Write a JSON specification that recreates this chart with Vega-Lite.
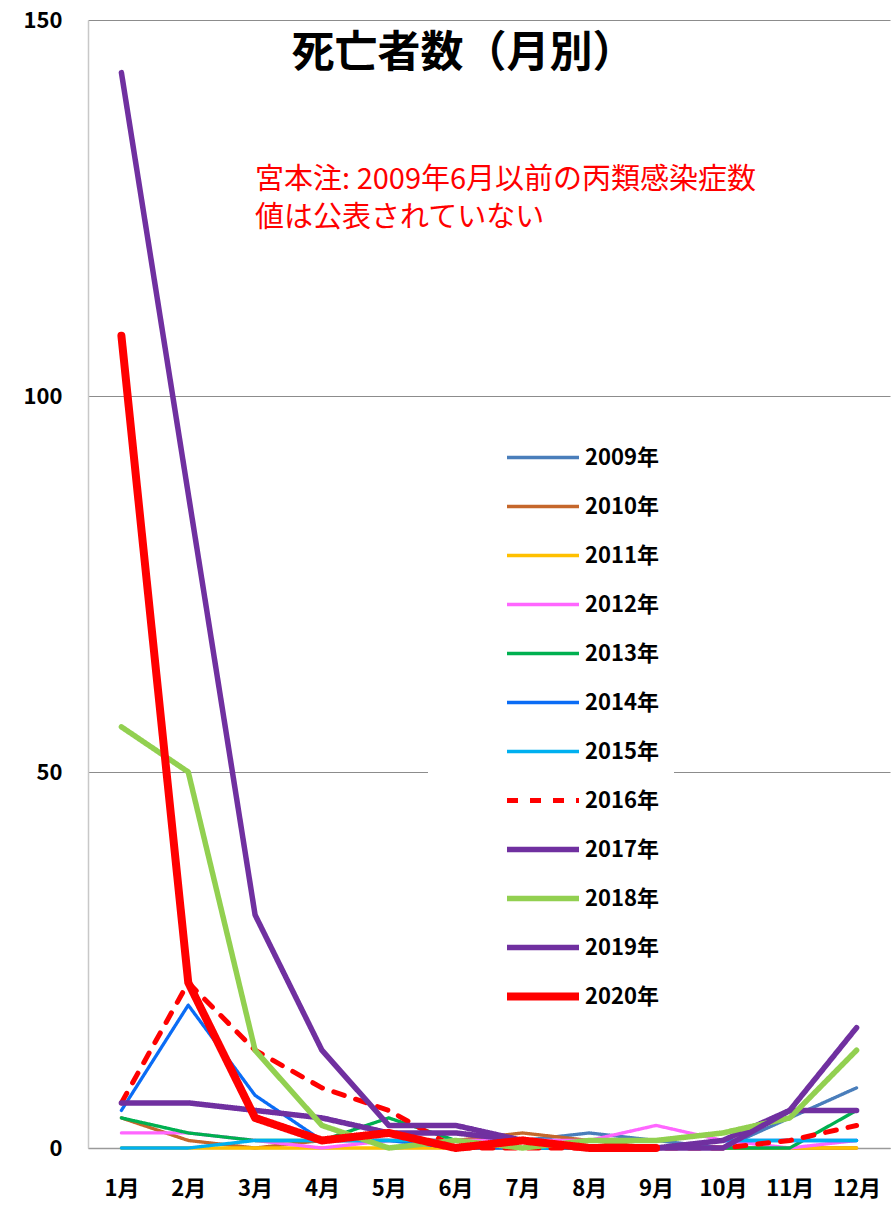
{
  "$schema": "https://vega.github.io/schema/vega-lite/v6.json",
  "width": 802,
  "height": 1128,
  "autosize": {"type": "none"},
  "padding": {"left": 88, "top": 20, "right": 4, "bottom": 61},
  "background": "white",
  "config": {
    "view": {"stroke": null},
    "font": "Noto Sans CJK JP",
    "legend": {"gridAlign": "all"}
  },
  "data": {
    "values": [
      {"year": "2009年", "month": "7月", "value": 1},
      {"year": "2009年", "month": "8月", "value": 2},
      {"year": "2009年", "month": "9月", "value": 1},
      {"year": "2009年", "month": "10月", "value": 0},
      {"year": "2009年", "month": "11月", "value": 4},
      {"year": "2009年", "month": "12月", "value": 8},

      {"year": "2010年", "month": "1月", "value": 4},
      {"year": "2010年", "month": "2月", "value": 1},
      {"year": "2010年", "month": "3月", "value": 0},
      {"year": "2010年", "month": "4月", "value": 1},
      {"year": "2010年", "month": "5月", "value": 1},
      {"year": "2010年", "month": "6月", "value": 1},
      {"year": "2010年", "month": "7月", "value": 2},
      {"year": "2010年", "month": "8月", "value": 1},
      {"year": "2010年", "month": "9月", "value": 0},
      {"year": "2010年", "month": "10月", "value": 0},
      {"year": "2010年", "month": "11月", "value": 0},
      {"year": "2010年", "month": "12月", "value": 0},

      {"year": "2011年", "month": "1月", "value": 0},
      {"year": "2011年", "month": "2月", "value": 0},
      {"year": "2011年", "month": "3月", "value": 0},
      {"year": "2011年", "month": "4月", "value": 0},
      {"year": "2011年", "month": "5月", "value": 0},
      {"year": "2011年", "month": "6月", "value": 0},
      {"year": "2011年", "month": "7月", "value": 0},
      {"year": "2011年", "month": "8月", "value": 0},
      {"year": "2011年", "month": "9月", "value": 0},
      {"year": "2011年", "month": "10月", "value": 0},
      {"year": "2011年", "month": "11月", "value": 0},
      {"year": "2011年", "month": "12月", "value": 0},

      {"year": "2012年", "month": "1月", "value": 2},
      {"year": "2012年", "month": "2月", "value": 2},
      {"year": "2012年", "month": "3月", "value": 1},
      {"year": "2012年", "month": "4月", "value": 0},
      {"year": "2012年", "month": "5月", "value": 1},
      {"year": "2012年", "month": "6月", "value": 1},
      {"year": "2012年", "month": "7月", "value": 1},
      {"year": "2012年", "month": "8月", "value": 1},
      {"year": "2012年", "month": "9月", "value": 3},
      {"year": "2012年", "month": "10月", "value": 1},
      {"year": "2012年", "month": "11月", "value": 0},
      {"year": "2012年", "month": "12月", "value": 1},

      {"year": "2013年", "month": "1月", "value": 4},
      {"year": "2013年", "month": "2月", "value": 2},
      {"year": "2013年", "month": "3月", "value": 1},
      {"year": "2013年", "month": "4月", "value": 1},
      {"year": "2013年", "month": "5月", "value": 4},
      {"year": "2013年", "month": "6月", "value": 1},
      {"year": "2013年", "month": "7月", "value": 0},
      {"year": "2013年", "month": "8月", "value": 0},
      {"year": "2013年", "month": "9月", "value": 0},
      {"year": "2013年", "month": "10月", "value": 0},
      {"year": "2013年", "month": "11月", "value": 0},
      {"year": "2013年", "month": "12月", "value": 5},

      {"year": "2014年", "month": "1月", "value": 5},
      {"year": "2014年", "month": "2月", "value": 19},
      {"year": "2014年", "month": "3月", "value": 7},
      {"year": "2014年", "month": "4月", "value": 1},
      {"year": "2014年", "month": "5月", "value": 1},
      {"year": "2014年", "month": "6月", "value": 0},
      {"year": "2014年", "month": "7月", "value": 0},
      {"year": "2014年", "month": "8月", "value": 0},
      {"year": "2014年", "month": "9月", "value": 0},
      {"year": "2014年", "month": "10月", "value": 1},
      {"year": "2014年", "month": "11月", "value": 1},
      {"year": "2014年", "month": "12月", "value": 1},

      {"year": "2015年", "month": "1月", "value": 0},
      {"year": "2015年", "month": "2月", "value": 0},
      {"year": "2015年", "month": "3月", "value": 1},
      {"year": "2015年", "month": "4月", "value": 1},
      {"year": "2015年", "month": "5月", "value": 1},
      {"year": "2015年", "month": "6月", "value": 1},
      {"year": "2015年", "month": "7月", "value": 0},
      {"year": "2015年", "month": "8月", "value": 0},
      {"year": "2015年", "month": "9月", "value": 0},
      {"year": "2015年", "month": "10月", "value": 1},
      {"year": "2015年", "month": "11月", "value": 1},
      {"year": "2015年", "month": "12月", "value": 1},

      {"year": "2016年", "month": "1月", "value": 6},
      {"year": "2016年", "month": "2月", "value": 22},
      {"year": "2016年", "month": "3月", "value": 13},
      {"year": "2016年", "month": "4月", "value": 8},
      {"year": "2016年", "month": "5月", "value": 5},
      {"year": "2016年", "month": "6月", "value": 0},
      {"year": "2016年", "month": "7月", "value": 0},
      {"year": "2016年", "month": "8月", "value": 0},
      {"year": "2016年", "month": "9月", "value": 0},
      {"year": "2016年", "month": "10月", "value": 0},
      {"year": "2016年", "month": "11月", "value": 1},
      {"year": "2016年", "month": "12月", "value": 3},

      {"year": "2017年", "month": "1月", "value": 6},
      {"year": "2017年", "month": "2月", "value": 6},
      {"year": "2017年", "month": "3月", "value": 5},
      {"year": "2017年", "month": "4月", "value": 4},
      {"year": "2017年", "month": "5月", "value": 2},
      {"year": "2017年", "month": "6月", "value": 2},
      {"year": "2017年", "month": "7月", "value": 1},
      {"year": "2017年", "month": "8月", "value": 0},
      {"year": "2017年", "month": "9月", "value": 0},
      {"year": "2017年", "month": "10月", "value": 1},
      {"year": "2017年", "month": "11月", "value": 5},
      {"year": "2017年", "month": "12月", "value": 5},

      {"year": "2018年", "month": "1月", "value": 56},
      {"year": "2018年", "month": "2月", "value": 50},
      {"year": "2018年", "month": "3月", "value": 13},
      {"year": "2018年", "month": "4月", "value": 3},
      {"year": "2018年", "month": "5月", "value": 0},
      {"year": "2018年", "month": "6月", "value": 1},
      {"year": "2018年", "month": "7月", "value": 0},
      {"year": "2018年", "month": "8月", "value": 1},
      {"year": "2018年", "month": "9月", "value": 1},
      {"year": "2018年", "month": "10月", "value": 2},
      {"year": "2018年", "month": "11月", "value": 4},
      {"year": "2018年", "month": "12月", "value": 13},

      {"year": "2019年", "month": "1月", "value": 143},
      {"year": "2019年", "month": "2月", "value": 87},
      {"year": "2019年", "month": "3月", "value": 31},
      {"year": "2019年", "month": "4月", "value": 13},
      {"year": "2019年", "month": "5月", "value": 3},
      {"year": "2019年", "month": "6月", "value": 3},
      {"year": "2019年", "month": "7月", "value": 1},
      {"year": "2019年", "month": "8月", "value": 0},
      {"year": "2019年", "month": "9月", "value": 0},
      {"year": "2019年", "month": "10月", "value": 0},
      {"year": "2019年", "month": "11月", "value": 5},
      {"year": "2019年", "month": "12月", "value": 16},

      {"year": "2020年", "month": "1月", "value": 108},
      {"year": "2020年", "month": "2月", "value": 22},
      {"year": "2020年", "month": "3月", "value": 4},
      {"year": "2020年", "month": "4月", "value": 1},
      {"year": "2020年", "month": "5月", "value": 2},
      {"year": "2020年", "month": "6月", "value": 0},
      {"year": "2020年", "month": "7月", "value": 1},
      {"year": "2020年", "month": "8月", "value": 0},
      {"year": "2020年", "month": "9月", "value": 0}
    ]
  },
  "layer": [
    {
      "mark": {"type": "line", "strokeCap": "round", "strokeJoin": "round"},
      "encoding": {
        "x": {
          "field": "month",
          "type": "ordinal",
          "scale": {"type": "point", "padding": 0.5, "domain": ["1月", "2月", "3月", "4月", "5月", "6月", "7月", "8月", "9月", "10月", "11月", "12月"]},
          "axis": {
            "title": null,
            "labelAngle": 0,
            "labelFontSize": 22,
            "labelFontWeight": "bold",
            "labelColor": "black",
            "labelPadding": 30,
            "ticks": false,
            "domainColor": "#9a9a9a",
            "domainWidth": 1.5,
            "grid": false
          }
        },
        "y": {
          "field": "value",
          "type": "quantitative",
          "scale": {"domain": [0, 150], "nice": false},
          "axis": {
            "title": null,
            "values": [0, 50, 100, 150],
            "labelFontSize": 22,
            "labelFontWeight": "bold",
            "labelColor": "black",
            "labelPadding": 26,
            "ticks": false,
            "grid": true,
            "gridColor": "#8c8c8c",
            "gridWidth": 1.2,
            "gridOpacity": 1,
            "domainColor": "#c8c8c8",
            "domainWidth": 1.5
          }
        },
        "color": {
          "field": "year",
          "type": "nominal",
          "scale": {
            "domain": ["2009年", "2010年", "2011年", "2012年", "2013年", "2014年", "2015年", "2016年", "2017年", "2018年", "2019年", "2020年"],
            "range": ["#4A7EBB", "#C5672B", "#FFC000", "#FF66FF", "#00B050", "#0A6CF5", "#00B0F0", "#FF0000", "#7030A0", "#92D050", "#7030A0", "#FF0000"]
          },
          "legend": {
            "title": null,
            "orient": "none",
            "legendX": 340,
            "legendY": 398,
            "symbolType": "stroke",
            "symbolSize": 5184,
            "symbolOffset": 60,
            "clipHeight": 49,
            "labelFontSize": 22,
            "labelFontWeight": "bold",
            "labelColor": "black",
            "labelOffset": 2,
            "rowPadding": 0,
            "padding": 15,
            "fillColor": "white"
          }
        },
        "strokeWidth": {
          "field": "year",
          "type": "nominal",
          "scale": {
            "type": "ordinal",
            "domain": ["2009年", "2010年", "2011年", "2012年", "2013年", "2014年", "2015年", "2016年", "2017年", "2018年", "2019年", "2020年"],
            "range": [3.3, 3.3, 3.3, 3.3, 3.3, 3.3, 3.3, 5, 5.5, 5.5, 5.5, 8]
          }
        },
        "strokeDash": {
          "field": "year",
          "type": "nominal",
          "scale": {
            "type": "ordinal",
            "domain": ["2009年", "2010年", "2011年", "2012年", "2013年", "2014年", "2015年", "2016年", "2017年", "2018年", "2019年", "2020年"],
            "range": [[1, 0], [1, 0], [1, 0], [1, 0], [1, 0], [1, 0], [1, 0], [11, 12], [1, 0], [1, 0], [1, 0], [1, 0]]
          }
        }
      }
    },
    {
      "data": {"values": [{}]},
      "mark": {"type": "text", "align": "center", "baseline": "middle", "dx": 8, "fontSize": 43, "fontWeight": "bold", "color": "black", "font": "Noto Sans CJK JP"},
      "encoding": {
        "x": {"datum": "6月"},
        "y": {"datum": 145.5},
        "text": {"value": "死亡者数（月別）"}
      }
    },
    {
      "data": {"values": [{}]},
      "mark": {"type": "text", "align": "left", "baseline": "top", "fontSize": 29, "lineHeight": 38, "lineBreak": "\n", "color": "#FF0000", "font": "Noto Sans CJK JP"},
      "encoding": {
        "x": {"datum": "3月"},
        "y": {"datum": 130.6},
        "text": {"value": "宮本注: 2009年6月以前の丙類感染症数\n値は公表されていない"}
      }
    }
  ]
}
